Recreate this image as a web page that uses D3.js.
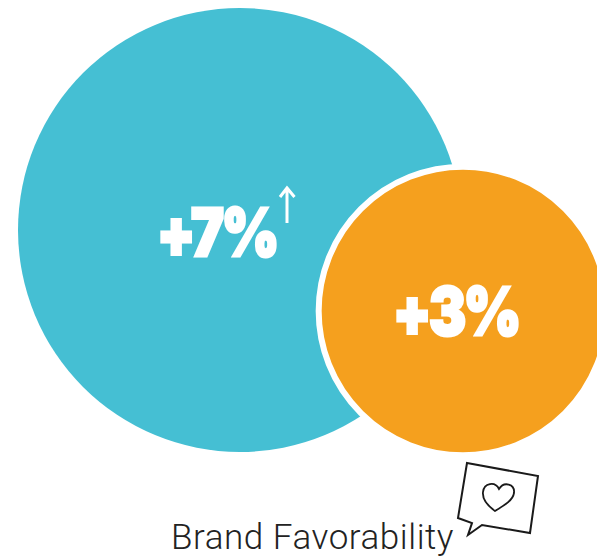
<!DOCTYPE html>
<html><head><meta charset="utf-8">
<script src="https://cdn.jsdelivr.net/npm/d3@7"></script>
<style>html,body{margin:0;padding:0;background:#fff;overflow:hidden}svg{display:block}</style>
</head><body><svg id="c" width="597" height="556"></svg>
<script>
const categories = ["Brand Favorability A", "Brand Favorability B"];
const values = [7, 3];
const labels = ["+7%", "+3%"];
const colors = ["#45BFD3", "#F5A01E"];
const title = "Brand Favorability";

const svg = d3.select("#c");
const r = d3.scaleSqrt().domain([0, 7]).range([0, 222]);
const cx = d3.scaleOrdinal().domain(categories).range([240, 463]);
const cy = d3.scaleOrdinal().domain(categories).range([230, 311]);
const rows = categories.map((c, i) => ({c, v: values[i], l: labels[i], col: colors[i]}));

svg.selectAll("circle.b").data(rows).join("circle").attr("class", "b")
  .attr("cx", d => cx(d.c)).attr("cy", d => cy(d.c))
  .attr("r", (d, i) => i ? r(d.v) - 1 : r(d.v))
  .attr("fill", d => d.col)
  .attr("stroke", (d, i) => i ? "#fff" : "none")
  .attr("stroke-width", 6);

const lx = [217, 456], ly = [255.5, 334.5];
svg.selectAll("text.v").data(rows).join("text").attr("class", "v")
  .attr("transform", (d, i) => `translate(${lx[i]},${ly[i]}) scale(0.84,1)`)
  .attr("text-anchor", "middle")
  .attr("font-family", "Inter, Roboto, sans-serif").attr("font-weight", 900)
  .attr("font-size", 66).attr("letter-spacing", -3)
  .attr("fill", "#fff").attr("stroke", "#fff").attr("stroke-width", 3)
  .text(d => d.l);

// up arrow
svg.append("path").attr("d", "M287 223V188M280 197L287 188L294.5 197")
  .attr("fill", "none").attr("stroke", "#fff").attr("stroke-width", 3);

svg.append("text").attr("x", 171).attr("y", 549)
  .attr("font-family", "Roboto, sans-serif").attr("font-size", 35).attr("font-weight", 300)
  .attr("letter-spacing", 0.55)
  .attr("fill", "#222").text(title);

// speech bubble icon
svg.append("path")
  .attr("d", "M467 463L538 476L530 533L482 525L468 535L472 523L458 518Z")
  .attr("fill", "#fff").attr("stroke", "#1a1a1a").attr("stroke-width", 2).attr("stroke-linejoin", "miter");
svg.append("path")
  .attr("d", "M495 511C488 506 482 500 483 492C484 483 495 481 499 489C504 481 515 484 514 493C513 500 505 505 495 511Z")
  .attr("fill", "none").attr("stroke", "#1a1a1a").attr("stroke-width", 1.8);
</script></body></html>
